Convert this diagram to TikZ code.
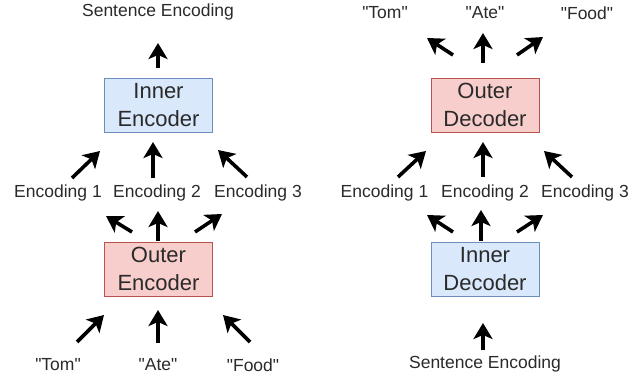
\documentclass[tikz,border=0pt]{standalone}
\usepackage{fontspec}
\setmainfont{Liberation Sans}[Ligatures=TeXOff]
\usetikzlibrary{arrows.meta}
\definecolor{infill}{HTML}{DAE8FC}
\definecolor{inline}{HTML}{6C8EBF}
\definecolor{outfill}{HTML}{F8CECC}
\definecolor{outline}{HTML}{B85450}
\definecolor{txt}{HTML}{2A2A2A}
\begin{document}
\begin{tikzpicture}[x=1pt,y=-1pt,
  lbl/.style={font=\fontsize{17.5}{21}\selectfont, text=txt, inner sep=0pt},
  box/.style={line width=0.9pt, minimum width=108pt, minimum height=54pt, align=center,
    font=\fontsize{22}{27.5}\selectfont, text=txt, inner sep=0pt},
  innerbox/.style={box, fill=infill, draw=inline},
  outerbox/.style={box, fill=outfill, draw=outline},
  arr/.style={line width=3.6pt, -{Stealth[length=16pt,width=19pt,inset=4pt]}}]
\useasboundingbox (0,0) rectangle (643,379);
% ---------- left: encoder ----------
\node[lbl] (seA) at (158,12) {Sentence Encoding};
\node[innerbox] (ie) at (158.5,105) {Inner\\Encoder};
\node[lbl] (encA1) at (58,193) {Encoding 1};
\node[lbl] (encA2) at (157,193) {Encoding 2};
\node[lbl] (encA3) at (258,193) {Encoding 3};
\node[outerbox] (oe) at (158.5,269) {Outer\\Encoder};
\node[lbl] (tomA) at (58,365) {"Tom"};
\node[lbl] (ateA) at (158,365) {"Ate"};
\node[lbl] (foodA) at (253,365) {"Food"};
% arrows
\coordinate (a1s) at (158,68);  \coordinate (a1e) at (158,43);
\coordinate (a2s) at (72,178);  \coordinate (a2e) at (100,151);
\coordinate (a3s) at (153,178); \coordinate (a3e) at (153,142);
\coordinate (a4s) at (247,177); \coordinate (a4e) at (218,150);
\coordinate (a5s) at (132,232); \coordinate (a5e) at (106,216);
\coordinate (a6s) at (158,241); \coordinate (a6e) at (158,211);
\coordinate (a7s) at (195,232); \coordinate (a7e) at (222,214);
\coordinate (a8s) at (77,342);  \coordinate (a8e) at (104,315);
\coordinate (a9s) at (158,343); \coordinate (a9e) at (158,310);
\coordinate (a10s) at (250,342); \coordinate (a10e) at (223,315);
\foreach \i in {1,...,10} {\draw[arr] (a\i s) -- (a\i e);}
% ---------- right: decoder ----------
\node[lbl] (tomB) at (385,13) {"Tom"};
\node[lbl] (ateB) at (485,13) {"Ate"};
\node[lbl] (foodB) at (587,13) {"Food"};
\node[outerbox] (od) at (485,105) {Outer\\Decoder};
\node[lbl] (encB1) at (384.5,193) {Encoding 1};
\node[lbl] (encB2) at (485,193) {Encoding 2};
\node[lbl] (encB3) at (585,193) {Encoding 3};
\node[innerbox] (id) at (485,269) {Inner\\Decoder};
\node[lbl] (seB) at (485,364) {Sentence Encoding};
\coordinate (b1s) at (453,55);  \coordinate (b1e) at (427,38);
\coordinate (b2s) at (483,63);  \coordinate (b2e) at (483,33);
\coordinate (b3s) at (517,55);  \coordinate (b3e) at (543,37);
\coordinate (b4s) at (398,177); \coordinate (b4e) at (426,151);
\coordinate (b5s) at (483,177); \coordinate (b5e) at (483,142);
\coordinate (b6s) at (572,177); \coordinate (b6e) at (544,151);
\coordinate (b7s) at (453,232); \coordinate (b7e) at (427,215);
\coordinate (b8s) at (481,241); \coordinate (b8e) at (481,210);
\coordinate (b9s) at (517,232); \coordinate (b9e) at (543,215);
\coordinate (b10s) at (483,350); \coordinate (b10e) at (483,323);
\foreach \i in {1,...,10} {\draw[arr] (b\i s) -- (b\i e);}
\end{tikzpicture}
\end{document}
